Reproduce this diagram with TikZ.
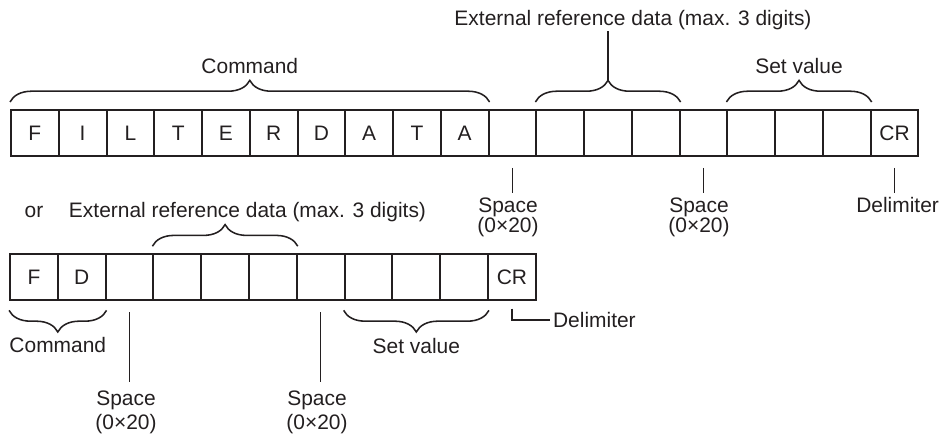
\documentclass[tikz,border=0pt]{standalone}
\usepackage{fontspec}
\setmainfont{Liberation Sans}
\usetikzlibrary{decorations.pathreplacing}

\begin{document}
\begin{tikzpicture}[font={\fontsize{14.9}{17.9}\selectfont},
    cell/.style={draw=ink, text=ink, line width=1.4pt, minimum width=1.194cm, minimum height=1.15cm, inner sep=0pt},
    brc/.style={draw=ink, line width=1.1pt, decorate, decoration={brace, amplitude=0.54cm}},
    lead/.style={draw=ink, line width=1pt},
    lbl/.style={inner sep=0pt, text=ink, anchor=base}]
  \definecolor{ink}{HTML}{231F20}
  \useasboundingbox (0,0) rectangle (23.525,10.925);
  % long form: FILTERDATA
  \foreach \c [count=\i] in {F,I,L,T,E,R,D,A,T,A,{},{},{},{},{},{},{},{},CR}
    \node[cell] (L\i) at ({0.275+1.194*(\i-0.5)},7.6) {\c};
  \draw[brc] ([yshift=0.175cm]L1.north west) -- ([yshift=0.175cm]L10.north east)
    node[lbl, midway, yshift=0.72cm] {Command};
  \draw[brc] ([yshift=0.175cm]L12.north west) -- ([yshift=0.175cm]L14.north east)
    coordinate[midway, yshift=0.54cm] (xtip);
  \node[lbl] (xref) at (15.825,10.275) {External reference data (max. 3 digits)};
  \draw[lead] (xtip) -- (xtip |- xref.south);
  \draw[brc] ([yshift=0.175cm]L16.north west) -- ([yshift=0.175cm]L18.north east)
    node[lbl, midway, yshift=0.72cm] {Set value};
  \draw[lead] ([yshift=-0.275cm]L11.south) -- ([yshift=-0.9cm]L11.south);
  \draw[lead] ([yshift=-0.275cm]L15.south) -- ([yshift=-0.9cm]L15.south);
  \draw[lead] ([yshift=-0.275cm]L19.south) -- ([yshift=-0.9cm]L19.south);
  \node[lbl, anchor=north, align=center] (sp1) at (12.7,5.9875) {Space\\[-3.7pt](0×20)};
  \node[lbl, anchor=north, align=center] (sp2) at (17.475,5.9875) {Space\\[-3.7pt](0×20)};
  \node[lbl, anchor=north] (dl1) at (22.44,5.9875) {Delimiter};
  % short form: FD
  \node[lbl] (or) at (0.85,5.4875) {or};
  \foreach \c [count=\i] in {F,D,{},{},{},{},{},{},{},{},CR}
    \node[cell] (S\i) at ({0.25+1.195*(\i-0.5)},3.99) {\c};
  \node[lbl] (xref2) at (6.1875,5.4875) {External reference data (max. 3 digits)};
  \draw[brc] ([yshift=0.18cm]S4.north west) -- ([yshift=0.18cm]S6.north east);
  \draw[brc] ([yshift=-0.225cm]S2.south east) -- ([yshift=-0.225cm]S1.south west)
    node[lbl, midway, yshift=-1.06cm] {Command};
  \draw[brc] ([yshift=-0.225cm]S10.south east) -- ([yshift=-0.225cm]S8.south west)
    node[lbl, midway, yshift=-1.08cm] {Set value};
  \draw[lead] ([yshift=-0.275cm]S3.south) -- ([yshift=-2.02cm]S3.south);
  \draw[lead] ([yshift=-0.275cm]S7.south) -- ([yshift=-2.02cm]S7.south);
  \node[lbl, anchor=north, align=center] (sp3) at (3.15,1.1625) {Space\\[-0.5pt](0×20)};
  \node[lbl, anchor=north, align=center] (sp4) at (7.925,1.1625) {Space\\[-0.5pt](0×20)};
  \node[lbl, anchor=base west] (dl2) at (13.82,2.7375) {Delimiter};
  \draw[lead] ([yshift=-0.18cm]S11.south) |- ([xshift=-0.07cm]dl2.west);
\end{tikzpicture}
\end{document}
